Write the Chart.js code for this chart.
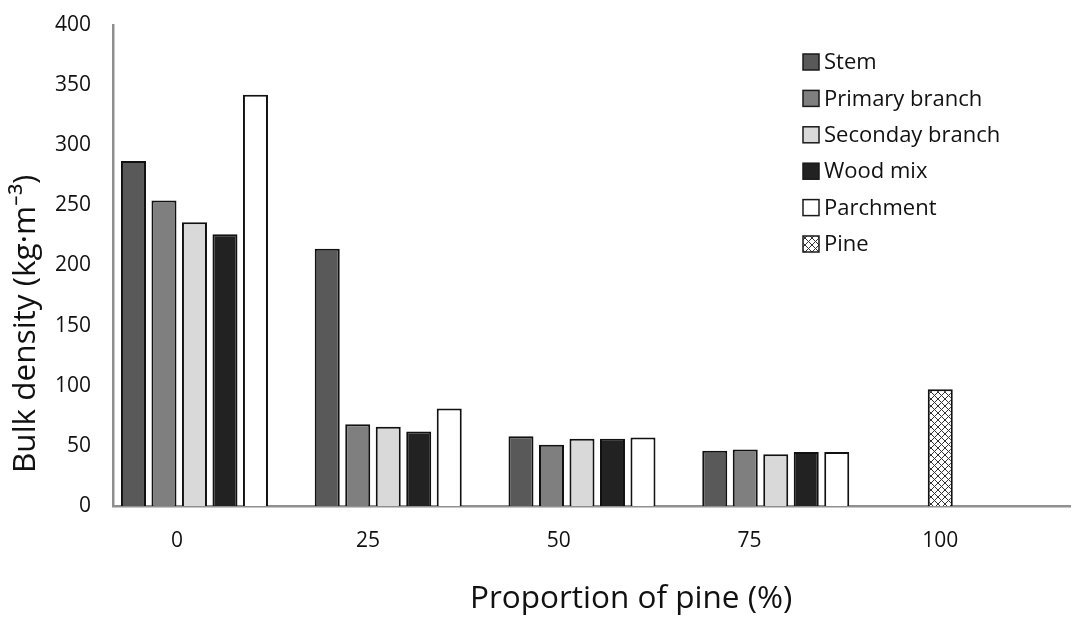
<!DOCTYPE html>
<html>
<head>
<meta charset="utf-8">
<script src="https://cdn.jsdelivr.net/npm/chart.js@4.4.1/dist/chart.umd.min.js"></script>
<style>
  html, body { margin: 0; padding: 0; background: #fff; }
</style>
</head>
<body>
<canvas id="myChart" width="1086" height="623"></canvas>
<script>
// datos (kg/m3)
const categories = [0, 25, 50, 75, 100];
const stem = [287, 214, 58, 46, null];
const primaryBranch = [254, 68, 51, 47, null];
const secondayBranch = [236, 66, 56, 43, null];
const woodMix = [226, 62, 56, 45, null];
const parchment = [342, 81, 57, 45, null];
const pine = [null, null, null, null, 97];
const yTicks = [0, 50, 100, 150, 200, 250, 300, 350, 400];

const tituloX = 'Proportion of pine (%)';
const tituloY = 'Bulk density (kg·m⁻³)';

const fuente = "'Open Sans', sans-serif";
const colorTexto = '#111';

// trama cuadriculada para el pino
function crosshatch() {
  const c = document.createElement('canvas');
  c.width = 7; c.height = 7;
  const g = c.getContext('2d');
  g.fillStyle = '#fff';
  g.fillRect(0, 0, 7, 7);
  g.strokeStyle = '#333';
  g.lineWidth = 1;
  g.beginPath();
  g.moveTo(0, 0); g.lineTo(7, 7);
  g.moveTo(7, 0); g.lineTo(0, 7);
  g.stroke();
  return g.createPattern(c, 'repeat');
}

// Chart.js reparte el ancho de cada categoria entre los dos ejes x que tienen
// barras, asi que el grupo queda en la primera mitad: se compensa con
// categoryPercentage y con el rango del eje xb
function serie(label, values, color) {
  return {
    label: label,
    data: categories.map((c, i) => ({ x: c, y: values[i] })),
    backgroundColor: color,
    borderColor: '#111',
    borderWidth: 2,
    xAxisID: 'xb',
    categoryPercentage: 1.574,
    barPercentage: 0.82
  };
}

// leyenda y titulos de ejes dibujados a mano
const extras = {
  id: 'extras',
  afterDraw(chart, args, opts) {
    const ctx = chart.ctx;
    ctx.save();
    ctx.font = opts.size + 'px ' + fuente;
    ctx.textBaseline = 'middle';
    chart.data.datasets.forEach((ds, i) => {
      const y = opts.y + i * opts.row;
      ctx.fillStyle = ds.backgroundColor;
      ctx.fillRect(opts.x, y - opts.box / 2, opts.box, opts.box);
      ctx.strokeStyle = '#1a1a1a';
      ctx.lineWidth = 1.5;
      ctx.strokeRect(opts.x, y - opts.box / 2, opts.box, opts.box);
      ctx.fillStyle = colorTexto;
      ctx.fillText(ds.label, opts.x + opts.box + 5, y + 1);
    });

    ctx.fillStyle = colorTexto;
    ctx.textBaseline = 'alphabetic';
    ctx.font = opts.titleSize + 'px ' + fuente;
    ctx.textAlign = 'left';
    ctx.fillText(tituloX, 470, 608);

    ctx.translate(35, 473);
    ctx.rotate(-Math.PI / 2);
    ctx.fillText(tituloY, 0, 0);
    ctx.restore();
  }
};

const ticksCategorias = (s) => { s.ticks = categories.map(v => ({ value: v })); };

const ctx = document.getElementById('myChart');
const grafico = new Chart(ctx, {
  type: 'bar',
  data: {
    datasets: [
      serie('Stem', stem, '#595959'),
      serie('Primary branch', primaryBranch, '#7f7f7f'),
      serie('Seconday branch', secondayBranch, '#d9d9d9'),
      serie('Wood mix', woodMix, '#222222'),
      serie('Parchment', parchment, '#ffffff'),
      {
        label: 'Pine',
        data: categories.map((c, i) => ({ x: c, y: pine[i] })),
        backgroundColor: crosshatch(),
        borderColor: '#111',
        borderWidth: 2,
        xAxisID: 'x',
        grouped: false,
        maxBarThickness: 25
      }
    ]
  },
  options: {
    responsive: false,
    animation: false,
    layout: { padding: { top: 25, right: 16, left: 0, bottom: 0 } },
    plugins: {
      legend: { display: false },
      tooltip: { enabled: false },
      extras: { x: 803, y: 62, row: 36.4, box: 16, size: 22, titleSize: 31.5 }
    },
    scales: {
      // eje visible: etiquetas 0..100
      x: {
        type: 'linear',
        position: 'bottom',
        offset: false,
        bounds: 'data',
        min: -8.4,
        max: 117,
        afterBuildTicks: ticksCategorias,
        afterFit: (s) => { s.height = 117; },
        grid: { display: false, drawTicks: false },
        border: { display: true, color: '#8f8f8f', width: 2.5 },
        ticks: { padding: 22, color: colorTexto, font: { family: fuente, size: 21 } }
      },
      // eje sin dibujo para los grupos de barras
      xb: {
        type: 'linear',
        position: 'bottom',
        offset: false,
        bounds: 'data',
        min: -20.35,
        max: 103.13,
        afterBuildTicks: ticksCategorias,
        afterFit: (s) => { s.height = 0; },
        grid: { display: false, drawTicks: false },
        border: { display: false },
        ticks: { display: false }
      },
      y: {
        min: 0,
        max: 400,
        afterBuildTicks: (s) => { s.ticks = yTicks.map(v => ({ value: v })); },
        afterFit: (s) => { s.width = 113; s.paddingTop = 0; s.paddingBottom = 0; },
        grid: { display: false, drawTicks: false },
        border: { display: true, color: '#8f8f8f', width: 2.5 },
        ticks: { padding: 22, color: colorTexto, font: { family: fuente, size: 21 } }
      }
    }
  },
  plugins: [extras]
});
</script>
</body>
</html>
